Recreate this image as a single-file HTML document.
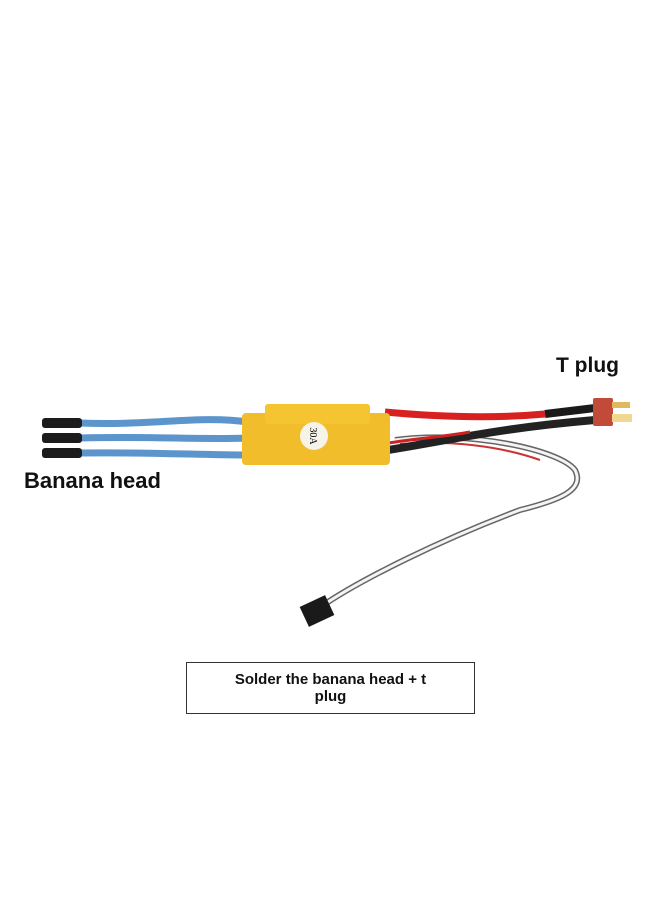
<!DOCTYPE html>
<html><head><style>
body{margin:0;background:#fff;width:660px;height:900px;overflow:hidden;position:relative;font-family:"Liberation Sans","DejaVu Sans",sans-serif}
.t{position:absolute;font-weight:bold;color:#111}
.box{position:absolute;left:186px;top:662px;width:289px;height:52px;border:1px solid #333;text-align:center;font-weight:bold;font-size:15px;line-height:17px;padding-top:8px;box-sizing:border-box;color:#111}
</style></head><body>
<svg width="660" height="900" style="position:absolute;left:0;top:0">
<!-- servo wire -->
<path d="M395 440 C470 430 560 450 575 470 C585 490 560 500 520 510 C440 540 360 580 322 606" stroke="#666" stroke-width="6" fill="none"/>
<path d="M395 440 C470 430 560 450 575 470 C585 490 560 500 520 510 C440 540 360 580 322 606" stroke="#f4f4f4" stroke-width="3" fill="none"/>
<path d="M400 444 C450 440 500 446 540 460" stroke="#c33" stroke-width="2" fill="none"/>
<rect x="303" y="600" width="28" height="22" fill="#1a1a1a" transform="rotate(-25 317 611)"/>
<!-- blue wires -->
<g stroke="#5b95cc" stroke-width="7" fill="none">
<path d="M80 423 C150 426 200 415 248 422"/>
<path d="M80 438 C150 436 200 440 248 438"/>
<path d="M80 453 C150 452 200 455 248 455"/>
</g>
<g fill="#1c1c1c">
<rect x="42" y="418" width="40" height="10" rx="3"/>
<rect x="42" y="433" width="40" height="10" rx="3"/>
<rect x="42" y="448" width="40" height="10" rx="3"/>
</g>
<!-- red & black -->
<path d="M385 412 C450 418 500 418 545 414" stroke="#d92020" stroke-width="7" fill="none"/>
<path d="M545 414 L595 408" stroke="#1a1a1a" stroke-width="8" fill="none"/>
<path d="M388 450 C450 440 500 428 595 420" stroke="#222" stroke-width="8" fill="none"/>
<path d="M388 443 C420 438 450 436 470 432" stroke="#c22" stroke-width="3" fill="none"/>
<!-- T plug -->
<rect x="593" y="398" width="20" height="28" rx="2" fill="#c24a38"/>
<rect x="612" y="402" width="18" height="6" fill="#e0b860"/>
<rect x="612" y="414" width="20" height="8" fill="#f0d890"/>
<!-- body -->
<rect x="242" y="413" width="148" height="52" rx="4" fill="#f1bd2a"/>
<rect x="265" y="404" width="105" height="20" rx="3" fill="#f4c431"/>
<circle cx="314" cy="436" r="14" fill="#f6f3e8"/>
<text x="314" y="440" font-size="10" text-anchor="middle" font-family="Liberation Serif" transform="rotate(90 314 436)">30A</text>
</svg>
<div class="t" style="left:556px;top:354px;font-size:21px">T plug</div>
<div class="t" style="left:24px;top:468px;font-size:22px">Banana head</div>
<div class="box">Solder the banana head + t<br>plug</div>
</body></html>
